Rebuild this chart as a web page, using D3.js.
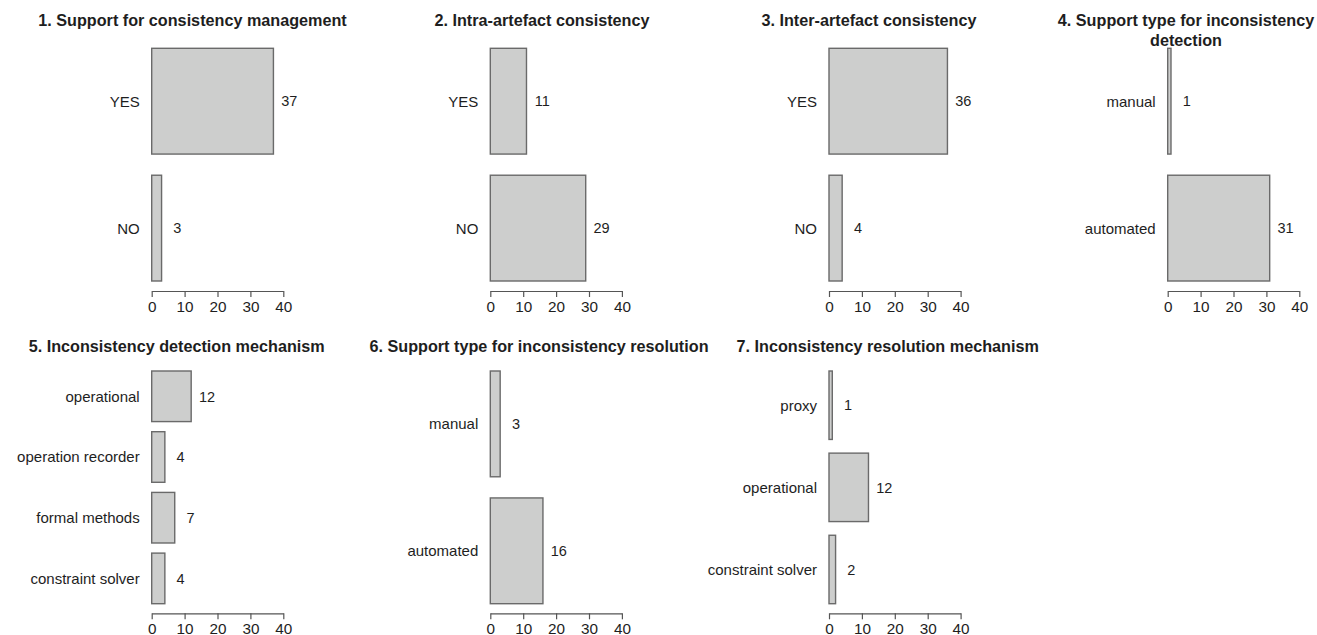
<!DOCTYPE html>
<html>
<head>
<meta charset="utf-8">
<script src="https://cdn.jsdelivr.net/npm/d3@7"></script>
<style>
  html, body { margin: 0; padding: 0; background: #fff; }
  svg { display: block; font-family: "Liberation Sans", Arial, Helvetica, sans-serif; }
</style>
</head>
<body>
<svg id="chart" width="1317" height="635"></svg>
<script>
// ---- data ----
const titles = [
  ["1. Support for consistency management"],
  ["2. Intra-artefact consistency"],
  ["3. Inter-artefact consistency"],
  ["4. Support type for inconsistency", "detection"],
  ["5. Inconsistency detection mechanism"],
  ["6. Support type for inconsistency resolution"],
  ["7. Inconsistency resolution mechanism"]
];
const cats1 = ["YES", "NO"];
const vals1 = [37, 3];
const cats2 = ["YES", "NO"];
const vals2 = [11, 29];
const cats3 = ["YES", "NO"];
const vals3 = [36, 4];
const cats4 = ["manual", "automated"];
const vals4 = [1, 31];
const cats5 = ["operational", "operation recorder", "formal methods", "constraint solver"];
const vals5 = [12, 4, 7, 4];
const cats6 = ["manual", "automated"];
const vals6 = [3, 16];
const cats7 = ["proxy", "operational", "constraint solver"];
const vals7 = [1, 12, 2];
const xTicks = [0, 10, 20, 30, 40];

// ---- layout ----
const svg = d3.select("#chart");
const rows = [
  { barTop: 48.3, barBottom: 281, axisY: 291, titleY: 26 },
  { barTop: 371, barBottom: 603.7, axisY: 613.3, titleY: 352 }
];
const panelX0 = [151.7, 490.3, 829, 1167.7, 151.7, 490.3, 829];
const titleCX = [192.5, 542, 869, 1186, 176.7, 539, 887.7];
const panelRow = [0, 0, 0, 0, 1, 1, 1];
const allCats = [cats1, cats2, cats3, cats4, cats5, cats6, cats7];
const allVals = [vals1, vals2, vals3, vals4, vals5, vals6, vals7];
const axisWidth = 131.6;

function drawPanel(i) {
  const row = rows[panelRow[i]];
  const x0 = panelX0[i];
  const cats = allCats[i], vals = allVals[i];
  const g = svg.append("g");

  const x = d3.scaleLinear().domain([0, 40]).range([x0, x0 + axisWidth]);
  const y = d3.scaleBand().domain(cats).range([row.barTop, row.barBottom])
    .paddingInner(0.2 / 1.2).paddingOuter(0);

  // title
  const t = g.append("text")
    .attr("x", titleCX[i]).attr("y", row.titleY)
    .attr("text-anchor", "middle")
    .attr("font-weight", "bold").attr("font-size", "16.2px").attr("fill", "#1e1e1e");
  titles[i].forEach((line, k) => {
    t.append("tspan").attr("x", titleCX[i]).attr("dy", k === 0 ? 0 : 19.5).text(line);
  });

  // bars
  g.selectAll("rect.bar").data(vals).enter().append("rect")
    .attr("class", "bar")
    .attr("x", x(0))
    .attr("y", (d, j) => y(cats[j]))
    .attr("width", d => x(d) - x(0))
    .attr("height", y.bandwidth())
    .attr("fill", "#cdcecd")
    .attr("stroke", "#6a6a6a")
    .attr("stroke-width", 1.4);

  // category labels
  g.selectAll("text.cat").data(cats).enter().append("text")
    .attr("class", "cat")
    .attr("x", x(0) - 12)
    .attr("y", d => y(d) + y.bandwidth() / 2)
    .attr("dy", "0.36em")
    .attr("text-anchor", "end")
    .attr("font-size", "15px").attr("fill", "#1e1e1e")
    .text(d => d);

  // value labels
  g.selectAll("text.val").data(vals).enter().append("text")
    .attr("class", "val")
    .attr("x", d => x(d + 4.8))
    .attr("y", (d, j) => y(cats[j]) + y.bandwidth() / 2)
    .attr("dy", "0.36em")
    .attr("text-anchor", "middle")
    .attr("font-size", "14.5px").attr("fill", "#1e1e1e")
    .text(d => d);

  // axis
  const ax = g.append("g").attr("transform", `translate(0,${row.axisY})`)
    .call(d3.axisBottom(x).tickValues(xTicks).tickSize(6).tickPadding(4).tickSizeOuter(0));
  ax.select(".domain").attr("stroke", "#555").attr("stroke-width", 1.2);
  ax.selectAll(".tick line").attr("stroke", "#555").attr("stroke-width", 1.2);
  ax.selectAll(".tick text").attr("font-size", "15.3px").attr("fill", "#1e1e1e")
    .attr("font-family", "\"Liberation Sans\", Arial, Helvetica, sans-serif");
}

for (let i = 0; i < 7; i++) drawPanel(i);
</script>
</body>
</html>
